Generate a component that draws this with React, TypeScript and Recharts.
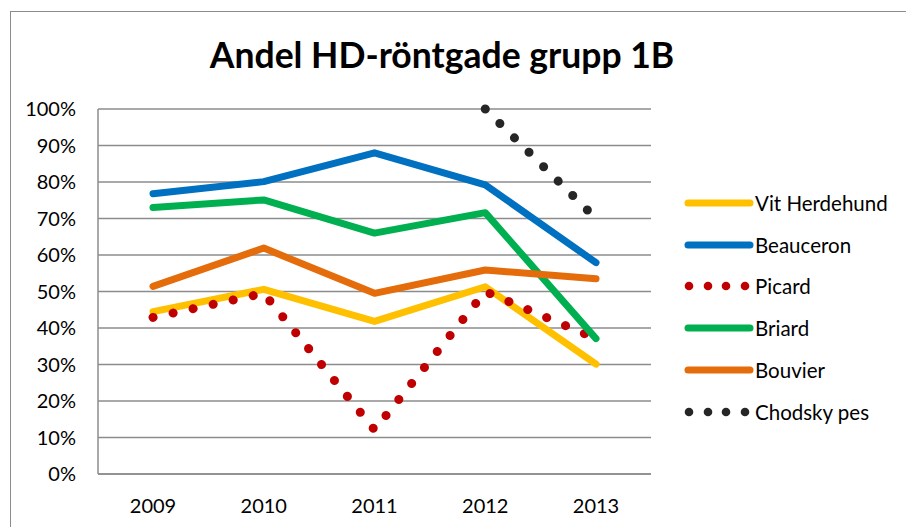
import React from 'react';
import { LineChart, Line, XAxis, YAxis, CartesianGrid } from 'recharts';

const years = ['2009', '2010', '2011', '2012', '2013'];
const vitHerdehund = [44.5, 50.6, 41.8, 51.3, 30.1];
const beauceron = [76.8, 80.1, 88.0, 79.2, 57.9];
const picard = [42.9, 49.5, 12.1, 50.0, 37.1];
const briard = [73.0, 75.1, 66.0, 71.6, 37.1];
const bouvier = [51.4, 61.9, 49.5, 55.9, 53.5];
const chodskyPes = [null, null, null, 100, 70];
const yTicks = [0, 10, 20, 30, 40, 50, 60, 70, 80, 90, 100];

const series = [
  { key: 'vit', name: 'Vit Herdehund', color: '#FFC000', values: vitHerdehund, dotted: false },
  { key: 'beauceron', name: 'Beauceron', color: '#0070C0', values: beauceron, dotted: false },
  { key: 'picard', name: 'Picard', color: '#C00000', values: picard, dotted: true },
  { key: 'briard', name: 'Briard', color: '#00B050', values: briard, dotted: false },
  { key: 'bouvier', name: 'Bouvier', color: '#E46C0A', values: bouvier, dotted: false },
  { key: 'chodsky', name: 'Chodsky pes', color: '#262626', values: chodskyPes, dotted: true },
];

const data = years.map((year, i) => {
  const row: any = { year };
  series.forEach((s) => { row[s.key] = s.values[i]; });
  return row;
});

const font = 'Lato, "Open Sans", sans-serif';
const gridColor = '#8C8C8C';

function LegendBox() {
  return (
    <div style={{ position: 'absolute', left: 684, top: 182, fontFamily: font, fontSize: 20.5, color: '#000' }}>
      {series.map((s) => (
        <div key={s.key} style={{ height: 41.8, display: 'flex', alignItems: 'center' }}>
          <svg width={70} height={12} style={{ marginRight: 1 }}>
            {s.dotted ? (
              [5, 24, 42, 61].map((cx) => <circle key={cx} cx={cx} cy={6} r={4.3} fill={s.color} />)
            ) : (
              <line x1={4} y1={6} x2={66} y2={6} stroke={s.color} strokeWidth={7} strokeLinecap="round" />
            )}
          </svg>
          <span>{s.name}</span>
        </div>
      ))}
    </div>
  );
}

export default function App() {
  return (
    <div style={{ position: 'absolute', left: 0, top: 0, width: 906, height: 527, background: '#fff', overflow: 'hidden' }}>
      <div style={{ position: 'absolute', left: 10, top: 11, width: 900, height: 530, borderLeft: '1.5px solid #8C8C8C', borderTop: '1.5px solid #8C8C8C' }} />
      <svg width={906} height={100} style={{ position: 'absolute', left: 0, top: 0 }}>
        <text x={442} y={68} textAnchor="middle" fontFamily={font} fontWeight={700} fontSize={35.5} fill="#000">
          Andel HD-röntgade grupp 1B
        </text>
      </svg>
      <div style={{ position: 'absolute', left: 0, top: 0 }}>
        <LineChart width={906} height={527} data={data} margin={{ top: 109, right: 255, bottom: 23, left: 20 }}>
          <CartesianGrid vertical={false} stroke={gridColor} strokeWidth={1.5} />
          <XAxis
            dataKey="year"
            height={30}
            padding={{ left: 55, right: 55 }}
            axisLine={{ stroke: gridColor, strokeWidth: 1.5 }}
            tickLine={false}
            tickMargin={19}
            tick={{ fill: '#000', fontSize: 20, fontFamily: font }}
          />
          <YAxis
            width={78}
            domain={[0, 100]}
            ticks={yTicks}
            interval={0}
            tickFormatter={(v: number) => `${v}%`}
            axisLine={{ stroke: gridColor, strokeWidth: 1.5 }}
            tickLine={false}
            tickMargin={16}
            tick={{ fill: '#000', fontSize: 20, fontFamily: font }}
          />
          {series.map((s) => (
            <Line
              key={s.key}
              dataKey={s.key}
              name={s.name}
              stroke={s.color}
              strokeWidth={s.dotted ? 9 : 7}
              strokeLinecap="round"
              strokeLinejoin="round"
              strokeDasharray={s.dotted ? '0.1 20.4' : undefined}
              dot={false}
              activeDot={false}
              connectNulls={false}
              isAnimationActive={false}
            />
          ))}
        </LineChart>
      </div>
      <LegendBox />
    </div>
  );
}
